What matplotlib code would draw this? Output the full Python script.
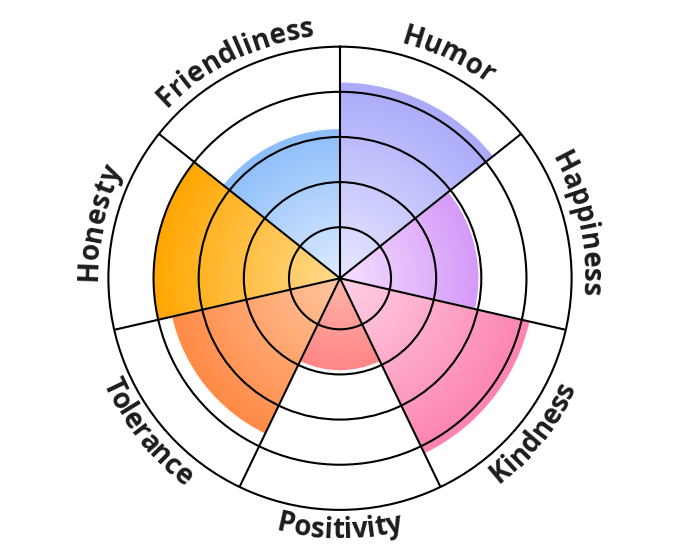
import numpy as np
import matplotlib
matplotlib.use("Agg")
import matplotlib.pyplot as plt
from matplotlib.colors import to_rgb
from matplotlib.font_manager import FontProperties

# data
labels = ["Humor", "Happiness", "Kindness", "Positivity", "Tolerance", "Honesty", "Friendliness"]
values = [4.22, 2.95, 4.19, 1.92, 3.70, 4.0, 3.19]
dark_colors = ["#a9a9fa", "#d599f8", "#fc82b0", "#ff8585", "#ff8a45", "#ffa600", "#8cbdf9"]
light_colors = ["#e8e8ff", "#f6e0ff", "#ffd2e6", "#ffb4a8", "#ffc59f", "#ffdb8e", "#deecff"]
rings = [1, 2, 3, 4]
r_min, r_max = -0.13, 5

fig = plt.figure(figsize=(6.8, 5.57), dpi=100)
ax = fig.add_axes([0.1594, 0.0846, 0.6812, 0.8316], projection="polar")
ax.set_theta_zero_location("N")
ax.set_theta_direction(-1)
ax.set_ylim(r_min, r_max)

n = len(labels)
width = 2 * np.pi / n
centers = np.arange(n) * width + width / 2

# gradient wedges: stack thin bars from the centre outwards
steps = 60
for th, v, c1, c0 in zip(centers, values, dark_colors, light_colors):
    c0 = np.array(to_rgb(c0))
    c1 = np.array(to_rgb(c1))
    edges = np.linspace(r_min, v, steps + 1)
    for k in range(steps):
        t = (k + 0.5) / steps
        col = c0 + (c1 - c0) * t
        ax.bar(th, edges[k + 1] - edges[k], bottom=edges[k], width=width,
               color=col, edgecolor=col, linewidth=0.6, zorder=1)
    ax.bar(th, v - r_min, bottom=r_min, width=width, facecolor="none",
           edgecolor="white", linewidth=1.0, zorder=1.2)

ax.set_xticks(np.arange(n) * width)
ax.set_xticklabels([])
ax.set_yticks(rings)
ax.set_yticklabels([])
ax.grid(True, color="black", linewidth=1.5)
ax.spines["polar"].set_linewidth(1.5)
ax.spines["polar"].set_color("black")

# curved labels
fp = FontProperties(family="Open Sans", weight="bold", size=20)
renderer = fig.canvas.get_renderer()
px_to_r = (r_max - r_min) / (ax.get_window_extent().width / 2)


def text_w(s):
    if not s:
        return 0.0
    return renderer.get_text_width_height_descent(s, fp, ismath=False)[0]


def curved_label(s, theta, outward):
    r_px = 243 if outward else 260
    r = r_min + r_px * px_to_r
    total = text_w(s)
    for i, ch in enumerate(s):
        pos = (text_w(s[:i]) + text_w(s[:i + 1])) / 2 - total / 2
        if outward:
            th = theta + pos / r_px
            rot = -np.degrees(th)
        else:
            th = theta - pos / r_px
            rot = 180 - np.degrees(th)
        ax.text(th, r, ch, fontproperties=fp, color="#1c1c1c", rotation=rot,
                rotation_mode="anchor", ha="center", va="baseline", clip_on=False)


for lab, th in zip(labels, centers):
    deg = np.degrees(th)
    curved_label(lab, th, outward=not (100 < deg < 260))

fig.savefig("out.png", dpi=100, facecolor="white")
